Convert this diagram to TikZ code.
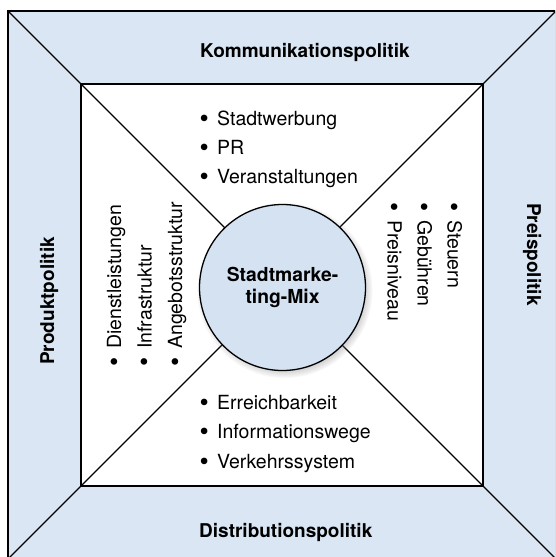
\documentclass[tikz,border=0pt]{standalone}
\usepackage{fontspec}
\setmainfont{TeX Gyre Heros}
\usetikzlibrary{shadows}
\definecolor{bandblue}{RGB}{218,230,243}
\definecolor{hubblue}{RGB}{212,226,242}
% bullet followed by the item text
\newcommand{\bul}[1]{\makebox[17.5pt][l]{\raisebox{-0.11em}{\scalebox{1.35}{\textbullet}}}#1}
\begin{document}
\begin{tikzpicture}[x=1pt,y=-1pt,
  band/.style={fill=bandblue, draw=black, line width=1.3pt},
  field/.style={fill=white, draw=black, line width=1.8pt},
  divider/.style={draw=black, line width=1.3pt},
  heading/.style={font=\fontsize{19}{22}\selectfont\bfseries, anchor=base west, inner sep=0pt},
  entry/.style={font=\fontsize{19.5}{22}\selectfont, anchor=base west, inner sep=0pt},
  hub/.style={circle, draw=black, line width=1.3pt, fill=hubblue,
    minimum size=166pt, inner sep=0pt, align=center,
    font=\fontsize{19.3}{22.5}\selectfont\bfseries,
    circular drop shadow={shadow xshift=2pt, shadow yshift=-2.5pt, shadow scale=1.06, opacity=0.55}}
]
\useasboundingbox (0,0) rectangle (555,557);
\fill[white] (0,0) rectangle (555,557);
\clip (0,0) rectangle (555,557);

% frame corners and centre
\coordinate (o1) at (8,11);
\coordinate (o2) at (556,11);
\coordinate (o3) at (556,559);
\coordinate (o4) at (8,559);
\coordinate (i1) at (81,84);
\coordinate (i2) at (483,84);
\coordinate (i3) at (483,486);
\coordinate (i4) at (81,486);
\coordinate (c) at (282,285);

% outer band and inner field
\path[band] (o1) rectangle (o3);
\path[field] (i1) rectangle (i3);

% diagonals from the corners towards the centre
\draw[divider] (o1) -- (c);
\draw[divider] (o2) -- (c);
\draw[divider] (o3) -- (c);
\draw[divider] (o4) -- (c);
\draw[line width=1.8pt] (i1) rectangle (i3);

% central circle
\node[hub] (mix) at (282.5,287.5) {Stadtmarke-\\ting-Mix};

% band headings
\node[heading] (komm) at (200,57) {Kommunikationspolitik};
\node[heading] (dist) at (199,537) {Distributionspolitik};
\node[heading, rotate=90] (prod) at (54,365) {Produktpolitik};
\node[heading, rotate=-90] (preis) at (527,203) {Preispolitik};

% Kommunikationspolitik items
\node[entry] (k1) at (199.5,125) {\bul{Stadtwerbung}};
\node[entry] (k2) at (199.5,154) {\bul{PR}};
\node[entry] (k3) at (199.5,183.5) {\bul{Veranstaltungen}};

% Distributionspolitik items
\node[entry] (d1) at (199.5,409) {\bul{Erreichbarkeit}};
\node[entry] (d2) at (199.5,438.5) {\bul{Informationswege}};
\node[entry] (d3) at (199.5,468) {\bul{Verkehrssystem}};

% Produktpolitik items
\node[entry, rotate=90] (p1) at (121,366.5) {\bul{Dienstleistungen}};
\node[entry, rotate=90] (p2) at (151.5,366.5) {\bul{Infrastruktur}};
\node[entry, rotate=90] (p3) at (182,366.5) {\bul{Angebotsstruktur}};

% Preispolitik items
\node[entry, rotate=-90] (r1) at (447.5,202.5) {\bul{Steuern}};
\node[entry, rotate=-90] (r2) at (417.5,202.5) {\bul{Gebühren}};
\node[entry, rotate=-90] (r3) at (387.5,202.5) {\bul{Preisniveau}};
\end{tikzpicture}
\end{document}
